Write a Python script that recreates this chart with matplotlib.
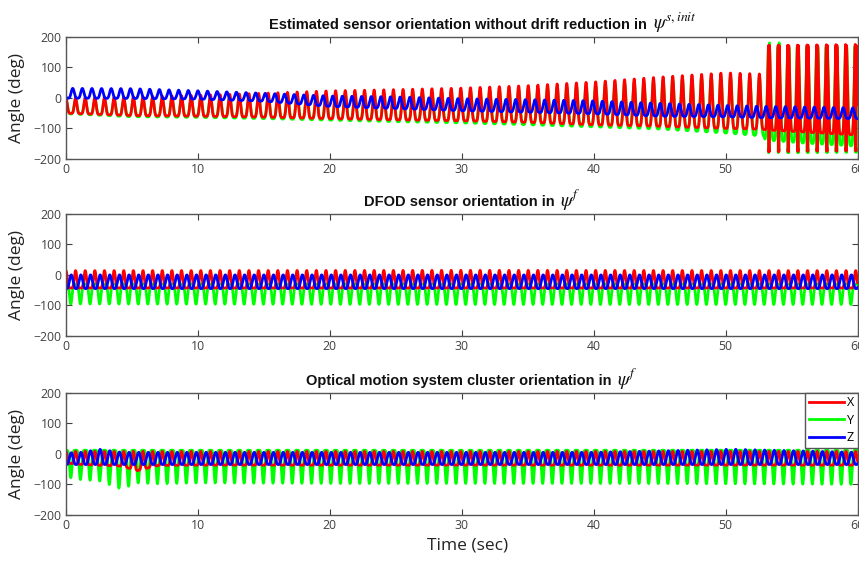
import numpy as np
import matplotlib
matplotlib.use("Agg")
import matplotlib.pyplot as plt

plt.rcParams['font.family'] = ['Open Sans', 'DejaVu Sans']
plt.rcParams['mathtext.fontset'] = 'stix'

# gait cycle length (sec) and samples per cycle
PERIOD = 0.73
SPC = 50

# Envelope knots: time (sec), upper and lower bound (deg)
# Panel 1 - estimated sensor orientation, drifting
t1 = [0, 5, 10, 15, 20, 25, 30, 35, 40, 45, 50, 52.9, 53.0, 56, 60]
x1_hi = [0, 3, 8, 15, 23, 27, 32, 40, 52, 68, 82, 78, 192, 194, 196]
x1_lo = [-50, -58, -60, -63, -68, -72, -75, -80, -88, -93, -100, -103, -105, -112, -122]
y1_hi = [-8, -5, 0, 6, 12, 15, 20, 28, 40, 55, 70, 68, 196, 198, 200]
y1_lo = [-52, -62, -64, -68, -73, -78, -82, -88, -95, -102, -115, -125, -138, -148, -158]
z1_hi = [31, 30, 23, 15, 6, 3, -3, -6, -10, -18, -25, -28, -28, -30, -33]
z1_lo = [-1, -2, -4, -11, -28, -35, -42, -47, -52, -60, -62, -65, -65, -66, -68]

# Panel 2 - DFOD sensor orientation
t2 = [0, 30, 60]
x2_hi = [14, 15, 14]
x2_lo = [-43, -43, -43]
y2_hi = [-30, -30, -30]
y2_lo = [-95, -97, -97]
z2_hi = [0, 0, 0]
z2_lo = [-45, -45, -45]

# Panel 3 - optical motion system cluster
t3 = [0, 1.2, 2.5, 4.2, 5.4, 7, 10, 20, 30, 40, 50.5, 60]
x3_hi = [8, 8, 8, 8, 8, 8, 8, 8, 8, 8, 8, 8]
x3_lo = [-30, -35, -37, -40, -55, -38, -37, -37, -37, -37, -37, -37]
y3_hi = [12, 12, 12, 12, 12, 12, 12, 12, 12, 12, 12, 12]
y3_lo = [-75, -85, -88, -115, -95, -98, -95, -97, -97, -97, -98, -100]
z3_hi = [3, 5, 15, 5, 5, 5, 5, 5, 5, 5, 15, 5]
z3_lo = [-35, -35, -35, -35, -35, -35, -35, -35, -35, -35, -35, -35]

titles = [
    'Estimated sensor orientation without drift reduction in',
    'DFOD sensor orientation in',
    'Optical motion system cluster orientation in',
]
title_math = [r'$\psi^{s,init}$', r'$\psi^{f}$', r'$\psi^{f}$']
# where the plain text ends and the symbol starts (axes fraction)
title_split = [0.741, 0.624, 0.696]


def wave(t, knots, hi, lo, offset, sharp, down=False):
    phase = (t / PERIOD + offset) % 1.0
    s = ((1 + np.cos(2 * np.pi * phase)) / 2) ** sharp
    if down:
        s = 1 - s
    h = np.interp(t, knots, hi)
    l = np.interp(t, knots, lo)
    return l + (h - l) * s


def wrap(a):
    return (a + 180) % 360 - 180


t = np.linspace(0, 60, int(60 / PERIOD * SPC) + 1)

panels = [
    (wrap(wave(t, t1, x1_hi, x1_lo, 0.0, 3)),
     wrap(wave(t, t1, y1_hi, y1_lo, 0.0, 2)),
     wave(t, t1, z1_hi, z1_lo, 0.3, 2)),
    (wave(t, t2, x2_hi, x2_lo, 0.0, 3),
     wave(t, t2, y2_hi, y2_lo, 0.5, 3, down=True),
     wave(t, t2, z2_hi, z2_lo, 0.45, 1.5)),
    (wave(t, t3, x3_hi, x3_lo, 0.0, 3),
     wave(t, t3, y3_hi, y3_lo, 0.5, 3, down=True),
     wave(t, t3, z3_hi, z3_lo, 0.45, 1.5)),
]

fig = plt.figure(figsize=(8.59, 5.61), dpi=100)
bottoms = [0.7166, 0.401, 0.082]
axes = []
for i in range(3):
    ax = fig.add_axes([0.0768, bottoms[i], 0.9215, 0.218])
    xs, ys, zs = panels[i]
    lg, = ax.plot(t, ys, color=(0, 1, 0), lw=2.0, label='Y')
    lr, = ax.plot(t, xs, color=(1, 0, 0), lw=2.0, label='X')
    lb, = ax.plot(t, zs, color=(0, 0, 1), lw=2.0, label='Z')
    ax.set_xlim(0, 60)
    ax.set_ylim(-200, 200)
    ax.set_xticks([0, 10, 20, 30, 40, 50, 60])
    ax.set_yticks([-200, -100, 0, 100, 200])
    ax.tick_params(direction='in', top=True, right=True, length=4,
                   labelsize=8.8, colors='#404040', pad=3)
    for sp in ax.spines.values():
        sp.set_color('#555555')
        sp.set_linewidth(1.0)
    ax.set_ylabel('Angle (deg)', fontsize=12.5, color='#222222')
    ax.yaxis.set_label_coords(-0.052, 0.5)
    ax.annotate(titles[i], (title_split[i], 1), xycoords='axes fraction',
                xytext=(-4, 5.5), textcoords='offset points', ha='right',
                va='baseline', fontsize=10.5, fontweight='bold',
                family='Liberation Sans', color='#111111')
    ax.annotate(title_math[i], (title_split[i], 1), xycoords='axes fraction',
                xytext=(0, 5.5), textcoords='offset points', ha='left',
                va='baseline', fontsize=14, color='#111111')
    axes.append(ax)

leg = axes[2].legend(handles=[lr, lg, lb], loc='upper right', fontsize=9,
                     handlelength=2.8, handletextpad=0.2, borderpad=0.3,
                     labelspacing=0.35, borderaxespad=0, fancybox=False,
                     framealpha=1)
leg.get_frame().set_edgecolor('#555555')
leg.get_frame().set_linewidth(1.0)

fig.text(468 / 859, 1 - 545 / 561, 'Time (sec)', fontsize=12.5,
         ha='center', va='center', color='#222222')

plt.savefig('out.png', dpi=100)
